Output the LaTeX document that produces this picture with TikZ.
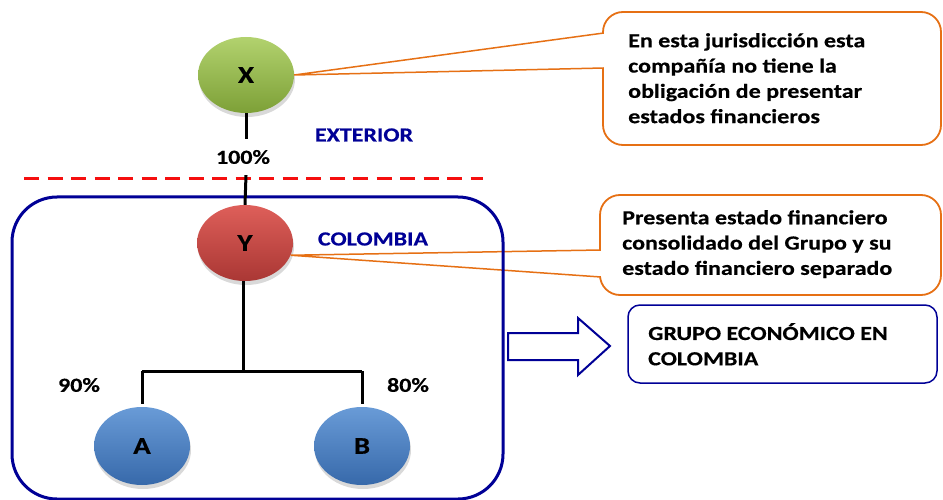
\documentclass[tikz,border=0pt]{standalone}
\usepackage{fontspec}
\setmainfont{Carlito}[FakeStretch=1.2, BoldFeatures={FakeBold=0.4}]
\usetikzlibrary{shapes.geometric,shadows}
\definecolor{navy}{RGB}{0,0,150}
\definecolor{orng}{RGB}{230,112,20}
\definecolor{dred}{RGB}{245,15,15}
\definecolor{gtop}{RGB}{178,210,110}
\definecolor{gbot}{RGB}{125,160,55}
\definecolor{rtop}{RGB}{222,95,90}
\definecolor{rbot}{RGB}{170,55,52}
\definecolor{btop}{RGB}{105,155,215}
\definecolor{bbot}{RGB}{55,105,170}
\begin{document}
\begin{tikzpicture}[x=1pt,y=-1pt,
  ball/.style={ellipse, minimum width=96pt, minimum height=76pt, inner sep=0pt,
    font=\fontsize{24}{28}\selectfont\bfseries,
    drop shadow={shadow xshift=1pt, shadow yshift=-4pt, opacity=0.3}},
  callbox/.style={draw=orng, line width=1.8pt, rounded corners=20pt, fill=white, inner sep=0pt},
  pointer/.style={orng, line width=1.5pt},
  btext/.style={font=\fontsize{20}{25.3}\selectfont\bfseries, align=left, inner sep=0pt},
  pct/.style={font=\fontsize{20}{24}\selectfont\bfseries, inner sep=0pt},
  region/.style={font=\fontsize{20}{24}\selectfont\bfseries, text=navy, inner sep=0pt},
  tree/.style={line width=3pt, black},
]
\useasboundingbox (0,0) rectangle (943,500);

% callout 1
\node[callbox, minimum width=338pt, minimum height=133pt] (c1) at (772,78.5) {};
\node[btext, anchor=north west] (t1) at (628,33) {En esta jurisdicción esta\\compañía no tiene la\\obligación de presentar\\estados financieros};

% callout 2
\node[callbox, minimum width=341pt, minimum height=100pt] (c2) at (770.5,245) {};
\node[btext, anchor=north west] (t2) at (622,210) {Presenta estado financiero\\consolidado del Grupo y su\\estado financiero separado};

% group box
\node[draw=navy, line width=1.5pt, rounded corners=12pt, minimum width=309pt, minimum height=78pt, inner sep=0pt] (g) at (782.5,344) {};
\node[btext, anchor=north west] (tg) at (648,323) {GRUPO ECONÓMICO EN\\COLOMBIA};

% ellipses
\node[ball, top color=gtop, bottom color=gbot] (X) at (246,75) {X};
\node[ball, top color=rtop, bottom color=rbot] (Y) at (245,243) {Y};
\node[ball, top color=btop, bottom color=bbot, minimum height=78pt] (A) at (142,446) {A};
\node[ball, top color=btop, bottom color=bbot, minimum height=78pt] (B) at (362,446) {B};

% pointers
\coordinate (p1a) at (603.8,33);
\coordinate (p1b) at (603.8,68);
\fill[white] (X.east) -- (605,33) -- (605,68) -- cycle;
\draw[pointer] (p1a) -- (X.east) -- (p1b);
\coordinate (p2a) at (600.8,250);
\coordinate (p2b) at (600.8,277);
\fill[white] (Y.-15) -- (602,250) -- (602,277) -- cycle;
\draw[pointer] (p2a) -- (Y.-15) -- (p2b);

% Colombia region
\draw[navy, line width=3pt, rounded corners=45pt] (12,197) rectangle (503,499);

% dashed border
\coordinate (d1) at (24,179);
\coordinate (d2) at (483,179);
\draw[dred, line width=3pt, dash pattern=on 15pt off 8.5pt] (d1) -- (d2);

% labels
\node[region] (ext) at (364,135) {EXTERIOR};
\node[region] (col) at (373,239) {COLOMBIA};
\node[pct, inner ysep=11pt] (p100) at (243,157) {100\%};
\node[pct] (p90) at (79,385) {90\%};
\node[pct] (p80) at (408,385) {80\%};

% tree
\draw[tree] (X.south) -- (X.south |- p100.north);
\draw[tree] (X.south |- p100.south) -- (Y.north);
\coordinate (j) at (243,371);
\draw[tree] (Y.south -| j) -- (j);
\draw[tree] (A.north |- j) -- (B.north |- j);
\draw[tree, shorten >=3pt] (A.north |- j) -- (A.north);
\draw[tree, shorten >=3pt] (B.north |- j) -- (B.north);

% block arrow
\draw[navy, line width=2pt, fill=white] (508,333) -- (578,333) -- (578,318) -- (610,346) -- (578,375) -- (578,360) -- (508,360) -- cycle;
\end{tikzpicture}
\end{document}
